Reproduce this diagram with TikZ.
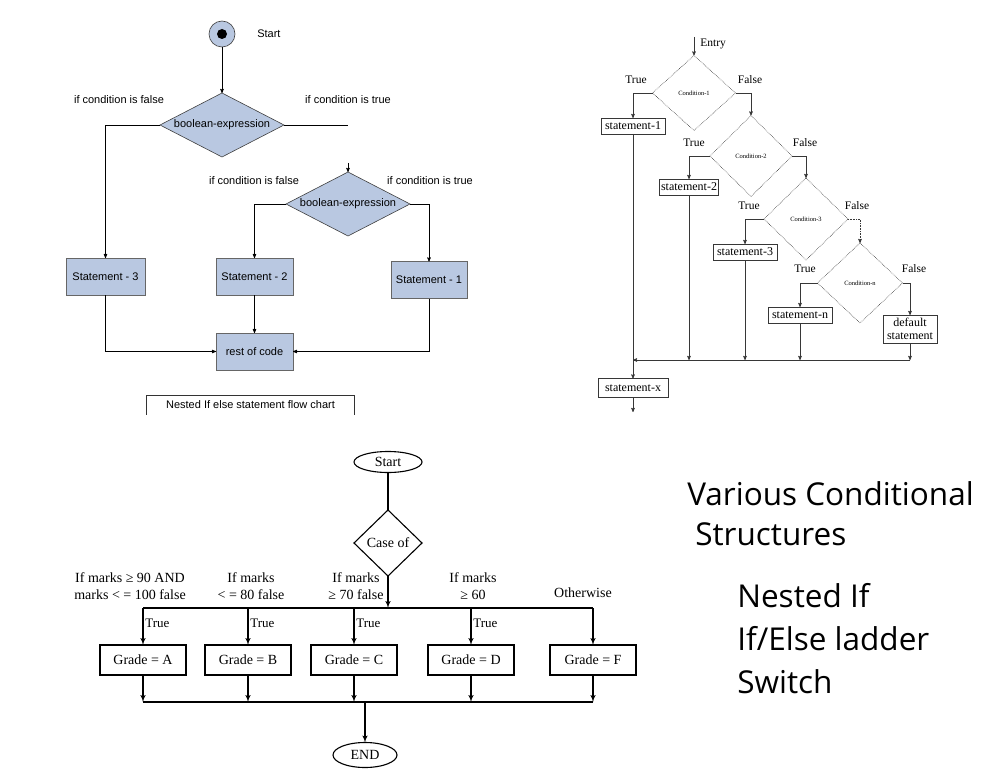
\documentclass[tikz,border=0pt]{standalone}
\usepackage{fontspec}
\setmainfont{Liberation Serif}
\newfontfamily\arialfont{Liberation Sans}
\newfontfamily\headfont{Open Sans}
\usetikzlibrary{arrows,positioning,shapes.geometric}
\definecolor{nodeblue}{RGB}{185,200,225}
\definecolor{scanline}{RGB}{55,55,55}

\tikzset{
  sanstext/.style={font=\arialfont\fontsize{11}{13}\selectfont, inner sep=1pt},
  startcircle/.style={circle, draw=black!75, fill=nodeblue, minimum size=26pt, inner sep=0pt, outer sep=0pt},
  bluediamond/.style={sanstext, diamond, draw=black!75, fill=nodeblue, inner sep=0pt, outer sep=0pt,
                      aspect=1.9, minimum width=124pt, minimum height=64pt},
  bluebox/.style={sanstext, rectangle, draw=black!60, fill=nodeblue, minimum height=37pt, outer sep=0pt},
  ladderdiamond/.style={diamond, draw=scanline, densely dotted, inner sep=0pt, outer sep=0pt,
                        font=\fontsize{6.5}{7}\selectfont},
  ladderbox/.style={rectangle, draw=scanline, inner sep=1.5pt, outer sep=0pt, minimum height=16pt,
                    font=\fontsize{12}{12}\selectfont},
  laddertext/.style={font=\fontsize{11.5}{12}\selectfont, inner sep=0pt},
  ladderline/.style={draw=scanline, line width=0.6pt},
  switchtext/.style={font=\fontsize{14}{17}\selectfont, align=center, inner sep=0pt},
  switchbox/.style={switchtext, rectangle, draw, line width=1.1pt, minimum width=86pt, minimum height=30pt, outer sep=0pt},
  switchoval/.style={switchtext, ellipse, draw, line width=1.1pt, inner sep=0pt, outer sep=0pt},
  switchdiamond/.style={switchtext, diamond, draw, line width=1.1pt, inner sep=0pt, outer sep=0pt,
                        minimum width=68pt, minimum height=66pt},
  switchline/.style={line width=1.4pt, >=latex'},
  headtext/.style={font=\headfont\fontsize{31.5}{35}\selectfont, inner sep=0pt, anchor=base west}
}

\begin{document}
\begin{tikzpicture}[x=1pt,y=-1pt,>=stealth',semithick]
\useasboundingbox (0,0) rectangle (996,781);

% nested if
\node[startcircle] (start) at (222,34) {};
\fill (start.center) circle (5pt);
\node[sanstext,anchor=west] (startlabel) at (256,34) {Start};
\node[bluediamond] (cond1) at (222,125) {boolean-expression};
\node[bluediamond] (cond2) at (348,204) {boolean-expression};
\node[bluebox,minimum width=79pt] (st3) at (105.5,276.5) {Statement - 3};
\node[bluebox,minimum width=77pt] (st2) at (254.5,276.5) {Statement - 2};
\node[bluebox,minimum width=76pt] (st1) at (429,280) {Statement - 1};
\node[bluebox,minimum width=77pt] (rest) at (254.5,351.5) {rest of code};
\node[sanstext,minimum width=207pt,minimum height=19pt] (caption) at (250.5,405) {Nested If else statement flow chart};
\draw[black!80] (caption.south west) -- (caption.north west) -- (caption.north east) -- (caption.south east);

\node[sanstext] at (119,100) {if condition is false};
\node[sanstext] at (348,100) {if condition is true};
\node[sanstext] at (254,181) {if condition is false};
\node[sanstext] at (430,181) {if condition is true};

\coordinate (cut1) at (348,125);
\coordinate (cut2) at (348,163);
\draw[->] (start) -- (cond1);
\draw[->] (cond1.west) -| (st3.north);
\draw (cond1.east) -- (cut1);
\draw[->] (cut2) -- (cond2.north);
\draw[->] (cond2.west) -| (st2.north);
\draw[->] (cond2.east) -| (st1.north);
\draw[->] (st2) -- (rest);
\draw[->] (st3.south) |- (rest.west);
\draw[->] (st1.south) |- (rest.east);

% else-if ladder
\node[ladderdiamond,minimum width=83pt,minimum height=75pt] (c1) at (694,93) {Condition-1};
\node[ladderdiamond,minimum width=82pt,minimum height=81pt] (c2) at (751,156) {Condition-2};
\node[ladderdiamond,minimum width=84pt,minimum height=82pt] (c3) at (806,219) {Condition-3};
\node[ladderdiamond,minimum width=85pt,minimum height=80pt] (cn) at (860,283) {Condition-n};
\node[ladderbox,minimum width=64pt] (s1) at (633,126) {statement-1};
\node[ladderbox,minimum width=58pt] (s2) at (689,187) {statement-2};
\node[ladderbox,minimum width=64pt] (s3) at (745,252) {statement-3};
\node[ladderbox,minimum width=64pt] (sn) at (800,315) {statement-n};
\node[ladderbox,minimum width=54pt,minimum height=28pt,align=center,font=\fontsize{12}{13}\selectfont] (dft) at (910,329) {default\\statement};
\node[ladderbox,minimum width=70pt,minimum height=19pt] (sx) at (633,388) {statement-x};

\node[laddertext,anchor=west] at (700,44) {Entry};
\node[laddertext] at (636,80) {True};
\node[laddertext] at (750,80) {False};
\node[laddertext] at (694,143) {True};
\node[laddertext] at (805,143) {False};
\node[laddertext] at (749,206) {True};
\node[laddertext] at (857,206) {False};
\node[laddertext] at (805,269) {True};
\node[laddertext] at (914,269) {False};

\coordinate (entry) at (694,37);
\coordinate (join) at (633,360);
\coordinate (exit) at (633,412);
\begin{scope}[ladderline]
\draw[->] (entry) -- (c1.north);
\draw[->] (c1.west) -| (s1.north);
\draw[->] (c1.east) -| (c2.north);
\draw[->] (c2.west) -| (s2.north);
\draw[->] (c2.east) -| (c3.north);
\draw[->] (c3.west) -| (s3.north);
\draw[->,densely dotted] (c3.east) -| (cn.north);
\draw[->] (cn.west) -| (sn.north);
\draw[->] (cn.east) -| (dft.north);
\draw[->] (s2.south) -- (s2.south |- join);
\draw[->] (s3.south) -- (s3.south |- join);
\draw[->] (sn.south) -- (sn.south |- join);
\draw[->] (dft.south) -- (dft.south |- join);
\draw[->] (dft.south |- join) -- (join);
\draw[->] (s1) -- (sx);
\draw[->] (sx) -- (exit);
\end{scope}

% switch
\node[switchoval,minimum width=68pt,minimum height=21pt] (bstart) at (388,462) {Start};
\node[switchdiamond] (caseof) at (388,543) {Case of};
\node[switchbox] (gA) at (143,660) {Grade = A};
\node[switchbox] (gB) at (248,660) {Grade = B};
\node[switchbox] (gC) at (354,660) {Grade = C};
\node[switchbox] (gD) at (471,660) {Grade = D};
\node[switchbox] (gF) at (593,660) {Grade = F};
\node[switchoval,minimum width=64pt,minimum height=25pt] (bend) at (365,755) {END};

\node[switchtext] at (130,586) {If marks ≥ 90 AND\\marks < = 100 false};
\node[switchtext] at (251,586) {If marks\\< = 80 false};
\node[switchtext] at (356,586) {If marks\\≥ 70 false};
\node[switchtext] at (473,586) {If marks\\≥ 60};
\node[switchtext] at (583,593) {Otherwise};

\coordinate (bus) at (388,608);
\coordinate (merge) at (365,702);
\begin{scope}[switchline]
\draw (bstart) -- (caseof);
\draw[->] (caseof.south) -- (bus);
\draw (gA.north |- bus) -- (gF.north |- bus);
\draw (gA.south |- merge) -- (gF.south |- merge);
\foreach \g in {gA,gB,gC,gD,gF} {
  \draw[->] (\g.north |- bus) -- (\g.north);
  \draw[->] (\g.south) -- (\g.south |- merge);
}
\draw[->] (merge) -- (bend);
\end{scope}
\foreach \g in {gA,gB,gC,gD}
  \path (\g.north |- bus) ++(2,15) node[switchtext,anchor=west,font=\fontsize{13}{15}\selectfont] {True};

% title
\node[headtext] (title1) at (687,505) {Various Conditional};
\node[headtext] (title2) at (695,545) {Structures};
\node[headtext] (item1) at (737,607) {Nested If};
\node[headtext] (item2) at (737,650) {If/Else ladder};
\node[headtext] (item3) at (737,693) {Switch};
\end{tikzpicture}
\end{document}
